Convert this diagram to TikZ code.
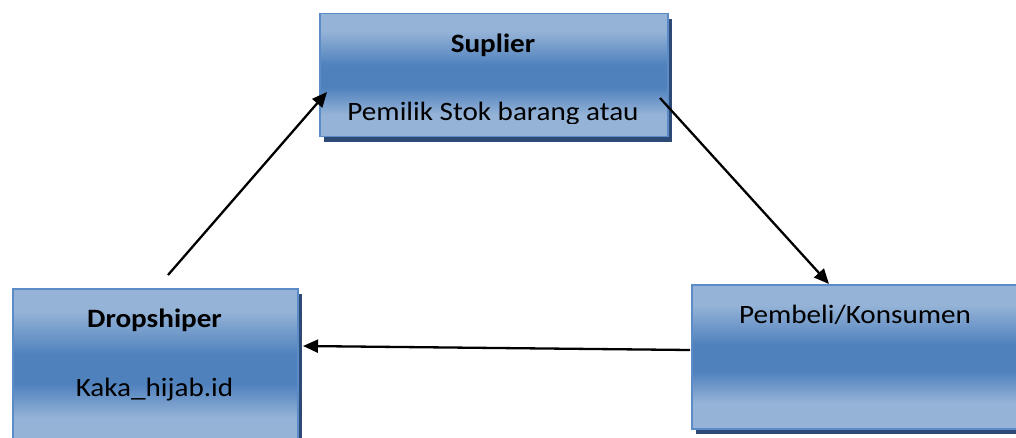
\documentclass[tikz,border=0pt]{standalone}
\usepackage{fontspec}
\setmainfont{Carlito}
\newfontfamily\boxfont[FakeStretch=1.1]{Carlito}
\usetikzlibrary{arrows.meta,shadows}
\definecolor{lt}{HTML}{95B3D7}
\definecolor{dk}{HTML}{4F81BD}
\definecolor{edgec}{HTML}{5B8CC8}
\definecolor{shd}{HTML}{2C4A75}
\pgfdeclareverticalshading{boxshade}{100bp}{color(0bp)=(lt); color(34bp)=(lt); color(45bp)=(dk); color(54bp)=(dk); color(68bp)=(lt); color(100bp)=(lt)}
\tikzset{
  box/.style={draw=edgec, line width=1.5pt, shading=boxshade, anchor=north west, inner sep=0pt,
    drop shadow={shadow xshift=4pt, shadow yshift=-5pt, fill=shd, opacity=1}},
  lbl/.style={anchor=base, inner sep=0pt, text=black, font=\boxfont\fontsize{26.5}{30}\selectfont},
  blbl/.style={lbl, font=\boxfont\bfseries\fontsize{26.5}{30}\selectfont},
  arr/.style={line width=2.3pt, -{Triangle[length=15pt,width=13pt]}}
}
\begin{document}
\begin{tikzpicture}[x=1pt,y=-1pt]
\useasboundingbox (0,0) rectangle (1016,438);
\fill[white] (0,0) rectangle (1016,438);
% boxes
\node[box, minimum width=348pt, minimum height=123pt] (sup) at (319,13) {};
\node[box, minimum width=285pt, minimum height=158pt] (drop) at (12,288) {};
\node[box, minimum width=330pt, minimum height=144pt] (pem) at (691,284) {};
% texts
\node[blbl] (supt) at (493,53) {Suplier};
\begin{scope}
\clip (319,13) rectangle (667,124);
\node[lbl] (supd) at (493,121) {Pemilik Stok barang atau};
\end{scope}
\node[blbl] (dropt) at (154.5,327) {Dropshiper};
\node[lbl] (dropd) at (154.5,396) {Kaka\_hijab.id};
\node[lbl] (pemt) at (855,323) {Pembeli/Konsumen};
% connectors
\coordinate (a1s) at (168,275);
\coordinate (a1e) at (327,92);
\coordinate (a2s) at (660,98);
\coordinate (a2e) at (829,284);
\coordinate (a3s) at (690,350);
\coordinate (a3e) at (303,346);
\draw[arr] (a1s) -- (a1e);
\draw[arr] (a2s) -- (a2e);
\draw[arr] (a3s) -- (a3e);
\end{tikzpicture}
\end{document}
